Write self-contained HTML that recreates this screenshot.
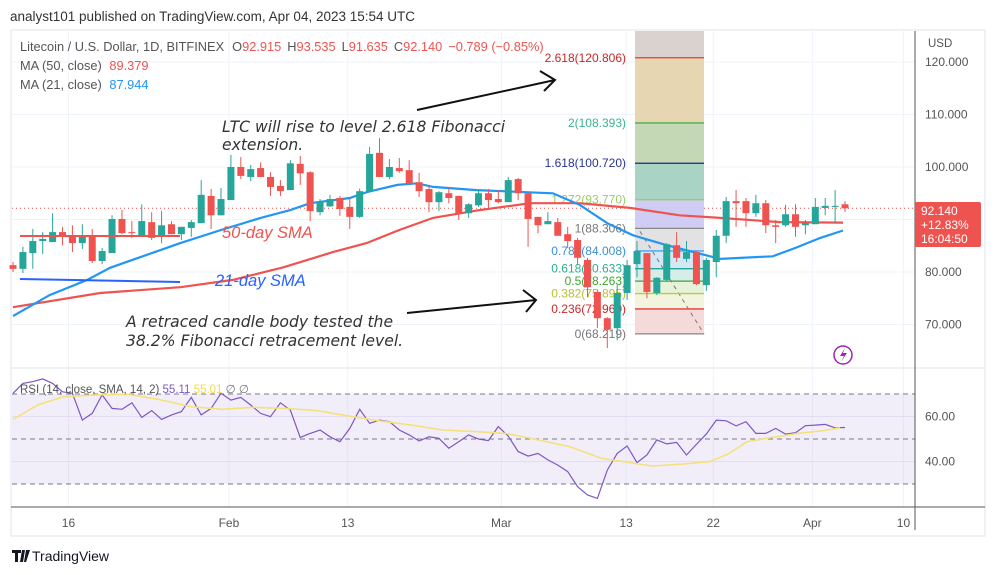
<!DOCTYPE html>
<html><head><meta charset="utf-8"><style>
html,body{margin:0;padding:0;background:#fff;width:995px;height:575px;overflow:hidden}
svg{display:block;font-family:"Liberation Sans","DejaVu Sans",sans-serif}
</style></head><body>
<svg id="chart" width="995" height="575" viewBox="0 0 995 575" xmlns="http://www.w3.org/2000/svg">
<text x="10" y="21" font-size="13.5" fill="#333">analyst101 published on TradingView.com, Apr 04, 2023 15:54 UTC</text>
<rect x="11" y="30" width="974" height="506" fill="#fff" stroke="#e0e3eb"/>
<g id="grid"></g>
<g id="fib"></g>
<g id="mas"></g>
<g id="candles"></g>
<g id="rsi"></g>
<g id="axes"></g>
<g font-style="italic" font-size="16.5" fill="#333">
 <g font-family="'DejaVu Sans',sans-serif" font-size="15.6">
 <text x="222" y="132">LTC  will rise to level 2.618 Fibonacci</text>
 <text x="222" y="150">extension.</text>
 <text x="126" y="327">A retraced candle body tested the</text>
 <text x="126" y="346"> 38.2% Fibonacci retracement level.</text>
 </g>
 <text x="222" y="238" fill="#ef5350">50-day SMA</text>
 <text x="215" y="286" fill="#2962ff">21-day SMA</text>
 <line x1="20" y1="236" x2="180" y2="236" stroke="#ef5350" stroke-width="2"/>
 <line x1="20" y1="279" x2="180" y2="282" stroke="#2962ff" stroke-width="2"/>
 <g stroke="#111" stroke-width="2" fill="none">
  <path d="M417 110 L555 80 M540 71 L555 80 L544 91"/>
  <path d="M407 313 L536 300 M523 290 L536 300 L526 312"/>
 </g>
</g>
<g font-size="12.8">
 <text x="20" y="51" fill="#555"><tspan>Litecoin / U.S. Dollar, 1D, BITFINEX</tspan><tspan dx="8">O</tspan><tspan fill="#ef5350">92.915</tspan><tspan dx="6">H</tspan><tspan fill="#ef5350">93.535</tspan><tspan dx="6">L</tspan><tspan fill="#ef5350">91.635</tspan><tspan dx="6">C</tspan><tspan fill="#ef5350">92.140</tspan><tspan dx="6" fill="#ef5350">−0.789 (−0.85%)</tspan></text>
 <text x="20" y="70" fill="#555">MA (50, close) <tspan dx="4" fill="#ef5350">89.379</tspan></text>
 <text x="20" y="89" fill="#555">MA (21, close) <tspan dx="4" fill="#2196f3">87.944</tspan></text>
 <text x="20" y="393" fill="#555" font-size="11.5">RSI (14, close, SMA, 14, 2) <tspan fill="#7e57c2">55.11</tspan> <tspan fill="#f5d94b">55.01</tspan> <tspan fill="#777">∅  ∅</tspan></text>
</g>
<g><circle cx="843" cy="355" r="9" fill="none" stroke="#9c27b0" stroke-width="1.5"/><path d="M845 348 L840 356 L844 356 L841 362 L847 353 L843 353 Z" fill="#9c27b0"/></g>
<g><path d="M12 550 h9 v3 h-3 v9 h-3 v-9 h-3 z M22 550 h3 l-2 12 h-3 z M26 550 h4 l-4 12 h-2 z" fill="#131722"/><text x="32" y="561" font-size="14" fill="#131722">TradingView</text></g>
</svg>
<script>
const NS="http://www.w3.org/2000/svg";
// ---- data ----
const opens=[81.3,80.6,83.6,85.9,85.7,87.6,87.0,85.5,86.7,82.1,83.6,90.1,87.6,87.0,89.5,86.7,89.1,87.2,88.4,89.3,94.5,90.8,93.7,100.0,98.1,99.8,98.1,96.4,95.6,100.6,99.0,91.4,92.5,94.1,92.4,90.5,95.4,102.7,98.1,99.8,99.4,97.1,95.8,93.3,95.0,94.5,91.2,92.7,95.0,93.9,93.3,97.7,95.0,90.5,89.1,89.5,87.2,86.1,82.3,76.2,71.2,69.3,76.0,81.5,83.6,76.0,78.5,85.1,82.5,83.8,77.5,81.9,86.9,93.5,93.5,91.2,93.1,88.9,88.9,91.0,88.9,89.1,92.2,92.4,92.9];
const highs=[81.9,84.8,88.2,87.6,91.2,88.6,88.9,89.1,88.2,84.6,90.8,91.8,89.7,92.9,91.4,91.6,89.7,88.6,89.9,97.5,95.8,96.0,102.3,101.9,100.4,100.9,99.0,97.5,101.3,102.1,99.2,93.9,94.7,94.5,94.1,95.9,103.8,105.5,101.5,101.7,101.3,98.9,96.6,95.4,96.0,94.5,93.1,95.6,95.8,95.6,98.1,97.9,95.2,90.5,91.4,90.3,88.6,86.5,82.7,76.6,71.4,77.5,82.3,85.9,83.6,79.0,85.5,87.6,85.9,84.0,82.7,88.0,94.3,95.6,94.1,94.7,93.7,89.9,92.8,92.9,89.9,94.1,94.1,95.6,93.5];
const lows=[80.0,79.8,80.6,83.4,85.7,85.1,83.8,84.4,81.7,81.5,83.6,87.2,86.5,87.0,86.1,85.5,87.2,86.1,86.7,89.3,88.2,90.8,93.7,97.7,97.3,98.1,94.5,94.5,95.6,96.6,89.7,90.8,92.4,90.7,88.2,90.3,95.4,98.1,97.7,98.9,96.6,94.3,91.4,91.6,93.1,89.9,90.3,92.4,92.2,93.1,93.3,93.7,84.8,87.4,89.1,86.9,84.6,81.3,75.2,69.3,65.5,67.0,74.7,79.0,75.0,75.6,78.1,81.9,81.9,77.5,76.4,79.0,85.5,88.6,88.6,90.5,87.4,85.5,88.6,86.7,87.2,89.1,90.8,89.3,91.4];
const closes=[80.6,83.8,85.9,86.3,87.6,86.7,85.5,86.7,82.1,84.0,90.1,87.4,87.4,89.7,86.5,88.9,87.2,88.6,89.5,94.7,90.8,93.9,100.0,98.3,99.6,98.1,96.2,95.4,100.7,98.8,91.6,93.3,93.9,92.0,90.5,95.4,102.5,98.1,100.0,99.2,96.9,95.4,93.3,95.2,94.1,91.2,92.9,95.0,93.7,93.3,97.5,95.0,90.1,88.9,89.7,86.9,85.9,82.7,77.1,71.2,69.0,76.0,81.3,84.0,76.2,78.9,85.3,82.7,83.8,77.7,82.3,86.9,93.5,93.1,91.2,93.1,88.9,88.6,91.0,88.6,89.3,92.4,92.6,92.6,92.14];
const ma21Idx=[1,4.7,8.5,10.8,13.8,17.9,22,26,29,31,35,36.7,39.8,41.8,43.4,47.8,55.5,58.2,61,63.6,67,72.4,77.7,80,82.5,84.8];
const ma21Val=[71.6,75.6,78.5,80.8,82.8,85.5,88.0,90.3,91.8,93.1,94.1,95.2,96.6,96.9,96.2,95.6,95.0,92.8,89.3,87.0,85.1,82.5,83.0,84.6,86.5,87.9];
const ma50Idx=[1,9.8,17.9,23.2,28.3,33.3,36.7,40,43.4,48.1,53.2,58.2,63.3,68.3,72.4,78.4,84.8];
const ma50Val=[73.3,76.0,77.1,78.5,80.9,83.8,85.5,88.0,90.3,91.8,93.1,93.1,92.2,90.8,90.3,89.5,89.4];
const rsiVal=[70.3,74.7,75.5,76.7,74.7,71.0,70.3,58.4,61.4,69.6,63.6,63.2,66.1,59.6,62.6,58.7,60.7,62.2,68.5,60.7,63.6,70.3,67.3,68.5,65.1,61.4,59.9,66.1,62.9,50.7,52.5,54.0,51.0,48.8,54.7,63.2,57.0,58.4,57.7,54.0,51.8,49.1,51.0,50.3,45.9,48.8,51.8,50.0,49.3,55.5,51.3,44.4,42.4,43.6,40.7,38.4,35.5,28.8,25.1,23.6,36.2,43.6,46.9,39.5,42.9,49.6,47.8,48.5,42.9,47.6,52.2,58.4,58.1,55.8,57.7,52.5,52.5,54.7,52.2,52.8,55.9,56.2,56.5,55.0,55.1];
const rsiSmaIdx=[1,3.5,6.1,9.3,12.5,15.7,18.9,22.1,25.3,28.5,31.7,34.9,38.1,41.2,44.4,47.6,50.8,54,57.2,60.4,62.7,65.5,68.7,71.3,73.2,75.1,77.7,80.2,82.8,84.5];
const rsiSmaVal=[58.7,65.1,68.8,69.6,69.9,67.6,64.4,63.2,64.1,63.6,62.6,60.2,58.0,56.2,54.0,53.3,52.5,49.6,46.6,41.4,39.9,38.0,38.9,39.9,43.3,48.8,50.7,52.5,53.7,55.0];
const fibLevels=[2.618,2,1.618,1.272,1,0.786,0.618,0.5,0.382,0.236,0];
const fibPrices=[120.806,108.393,100.720,93.770,88.306,84.008,80.633,78.263,75.895,72.960,68.219];
const priceTicks=[120,110,100,80,70];
const rsiTicks=[60,40];
const timeLabels=["16","Feb","13","Mar","13","22","Apr","10"];
const timeLabelIdx=[6.6,22.8,34.8,50.3,62.9,71.7,81.7,90.9];
// ---- scales ----
const xOf=i=>13+(i-1)*9.905;
const yP=p=>62+(120-p)*5.25;
const yR=v=>394+(70-v)*2.25;
function mk(tag,attrs,parent){const e=document.createElementNS(NS,tag);for(const k in attrs)e.setAttribute(k,attrs[k]);parent.appendChild(e);return e;}
const grid=document.getElementById('grid'),axes=document.getElementById('axes');
[120,110,100,90,80,70].forEach(p=>{const l=mk('line',{x1:12,x2:915,y1:yP(p),y2:yP(p),stroke:'#f0f3fa'},grid);

});
timeLabelIdx.forEach(i=>{const l=mk('line',{x1:xOf(i),x2:xOf(i),y1:31,y2:507,stroke:'#f0f3fa'},grid);

});
const fib=document.getElementById('fib');
const fx1=635,fx2=704;
const fibFill=['#e6d6b2','#c5d8b5','#a9d3c4','#cfcdf4','#e2e2e4','#d4e7f4','#d7eee6','#e6f2da','#f2f4df','#f5dada'];
const fibLine=['#e53935','#4caf50','#1a237e','#9ccc65','#888','#42a5f5','#26a69a','#43a047','#c0ca33','#e53935','#888'];
const fibText=['#c62828','#3cb38b','#283593','#9ccc65','#777','#3d8fd0','#2bb08f','#3aa82e','#b8c12f','#c62828','#777'];
const topR=mk('rect',{x:fx1,y:31,width:fx2-fx1,height:yP(fibPrices[0])-31,fill:'#d9d2ce'},fib);


for(let k=0;k<fibPrices.length-1;k++){const r=mk('rect',{x:fx1,y:yP(fibPrices[k]),width:fx2-fx1,height:yP(fibPrices[k+1])-yP(fibPrices[k]),fill:fibFill[k]},fib);

}
mk('line',{x1:640,y1:yP(fibPrices[4])+3,x2:fx2,y2:yP(fibPrices[10]),stroke:'#777','stroke-dasharray':'4 4'},fib);
fibLevels.forEach((lv,k)=>{const y=yP(fibPrices[k]);
const l=mk('line',{x1:fx1,x2:fx2,y1:y,y2:y,stroke:fibLine[k],'stroke-width':1.3},fib);


const t=mk('text',{x:626,y:y+4,'text-anchor':'end','font-size':12,fill:fibText[k]},fib);
t.textContent=lv+'('+fibPrices[k].toFixed(3)+')';

});
mk('line',{x1:12,x2:915,y1:yP(92.14),y2:yP(92.14),stroke:'#ef5350','stroke-dasharray':'1 3'},grid);
const mas=document.getElementById('mas');
function path(idx,val,yf){return idx.map((i,k)=>(k?'L':'M')+xOf(i).toFixed(1)+' '+yf(val[k]).toFixed(1)).join(' ');}
const m50=mk('path',{d:path(ma50Idx,ma50Val,yP),fill:'none',stroke:'#ef5350','stroke-width':2.2},mas);


const m21=mk('path',{d:path(ma21Idx,ma21Val,yP),fill:'none',stroke:'#2196f3','stroke-width':2.2},mas);


const cg=document.getElementById('candles');
closes.forEach((c,k)=>{const o=opens[k],x=xOf(k+1),col=c>=o?'#26a69a':'#ef5350';
const g=mk('g',{},cg);


mk('line',{x1:x,x2:x,y1:yP(highs[k]),y2:yP(lows[k]),stroke:col,'stroke-width':1},g);
const t=yP(Math.max(o,c)),b=yP(Math.min(o,c));
mk('rect',{x:x-3.5,y:t,width:7,height:Math.max(1,b-t),fill:col},g);});
const rg=document.getElementById('rsi');
mk('line',{x1:11,x2:985,y1:368,y2:368,stroke:'#e0e3eb'},rg);
mk('rect',{x:12,y:yR(70),width:903,height:yR(30)-yR(70),fill:'#7e57c2','fill-opacity':0.1},rg);
[70,50,30].forEach(v=>mk('line',{x1:12,x2:915,y1:yR(v),y2:yR(v),stroke:'#787b86','stroke-dasharray':'5 4'},rg));
rsiTicks.forEach(v=>mk('line',{x1:12,x2:915,y1:yR(v),y2:yR(v),stroke:'#e2ddf0'},rg));
const rl=mk('path',{d:rsiVal.map((v,k)=>(k?'L':'M')+xOf(k+1).toFixed(1)+' '+yR(v).toFixed(1)).join(' '),fill:'none',stroke:'#7e57c2','stroke-width':1.2},rg);


const rs=mk('path',{d:path(rsiSmaIdx,rsiSmaVal,yR),fill:'none',stroke:'#f5e17a','stroke-width':1.6},rg);


mk('line',{x1:915,x2:915,y1:31,y2:530,stroke:'#555'},axes);
mk('line',{x1:11,x2:985,y1:507,y2:507,stroke:'#555'},axes);
const usd=mk('text',{x:928,y:47,'font-size':11.5,fill:'#555'},axes);usd.textContent='USD';
priceTicks.forEach(p=>{const t=mk('text',{x:925,y:yP(p)+4,'font-size':12,fill:'#555'},axes);t.textContent=p.toFixed(3);

});
rsiTicks.forEach(v=>{const t=mk('text',{x:925,y:yR(v)+4,'font-size':12,fill:'#555'},axes);t.textContent=v.toFixed(2);

});
timeLabels.forEach((s,k)=>{const t=mk('text',{x:xOf(timeLabelIdx[k]),y:527,'font-size':12,fill:'#555','text-anchor':'middle'},axes);t.textContent=s;

});
const pb=mk('g',{},axes);


mk('rect',{x:915,y:202,width:66,height:45,rx:2,fill:'#ef5350'},pb);
['92.140','+12.83%','16:04:50'].forEach((s,k)=>{const t=mk('text',{x:921,y:215+k*14,'font-size':12,fill:'#fff'},pb);t.textContent=s;});
</script>
</body></html>
